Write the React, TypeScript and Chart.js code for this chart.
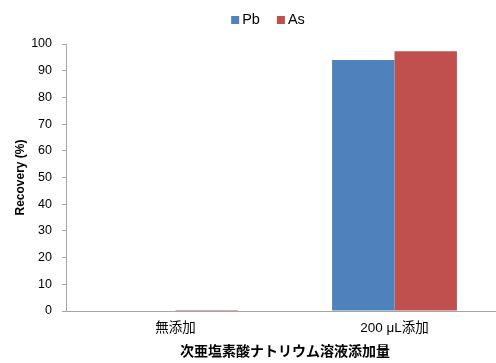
import React, { useEffect, useRef } from "react";
import { Chart, registerables } from "chart.js";

Chart.register(...registerables);

const categories = ["無添加", "200 μL添加"];
const pbValues = [0, 94.0];
const asValues = [0.4, 97.3];
const yTicks = [0, 10, 20, 30, 40, 50, 60, 70, 80, 90, 100];

const seriesNames = ["Pb", "As"];
const seriesColors = ["#4F81BD", "#C0504D"];

const FONT = "'Liberation Sans', 'Noto Sans CJK JP', sans-serif";

// Compact legend row above the plot: small square, tight gap, then the name.
const topLegend = {
  id: "topLegend",
  afterDraw(chart: any) {
    const ctx = chart.ctx as CanvasRenderingContext2D;
    const box = 8;
    const gap = 3;
    const spacing = 17;
    ctx.save();
    ctx.font = `14.5px ${FONT}`;
    ctx.textBaseline = "middle";
    ctx.textAlign = "left";
    const widths = seriesNames.map((n) => ctx.measureText(n).width);
    const total =
      widths.reduce((a, w) => a + box + gap + w, 0) + spacing * (seriesNames.length - 1);
    const area = chart.chartArea;
    const center = (area.left + area.right) / 2 - 17;
    let x = center - total / 2;
    const y = 20;
    seriesNames.forEach((name, i) => {
      ctx.fillStyle = seriesColors[i];
      ctx.fillRect(x, y - box / 2, box, box);
      x += box + gap;
      ctx.fillStyle = "#000";
      ctx.fillText(name, x, y);
      x += widths[i] + spacing;
    });
    ctx.restore();
  },
};

export default function App() {
  const canvasRef = useRef<HTMLCanvasElement | null>(null);

  useEffect(() => {
    const canvas = canvasRef.current;
    if (!canvas) return;
    const chart = new Chart(canvas, {
      type: "bar",
      data: {
        labels: categories,
        datasets: [
          { label: seriesNames[0], data: pbValues, backgroundColor: seriesColors[0], borderWidth: 0 },
          { label: seriesNames[1], data: asValues, backgroundColor: seriesColors[1], borderWidth: 0 },
        ],
      },
      options: {
        responsive: false,
        animation: false,
        layout: { padding: { top: 44, right: 26, bottom: 2, left: 13 } },
        datasets: {
          bar: { categoryPercentage: 0.57, barPercentage: 1.0 },
        },
        plugins: {
          legend: { display: false },
          tooltip: { enabled: false },
        },
        scales: {
          x: {
            grid: { display: false },
            border: { display: true, color: "#A6A6A6" },
            ticks: { color: "#000", font: { family: FONT, size: 13.5 }, padding: 1 },
            afterFit: (scale: any) => {
              scale.height = 50;
            },
            title: {
              display: true,
              text: "次亜塩素酸ナトリウム溶液添加量",
              color: "#000",
              font: { family: FONT, size: 14, weight: "bold" },
              padding: { top: 2, bottom: 0 },
            },
          },
          y: {
            min: 0,
            max: 100,
            afterBuildTicks: (scale: any) => {
              scale.ticks = yTicks.map((v) => ({ value: v }));
            },
            afterFit: (scale: any) => {
              scale.width = 53;
            },
            grid: {
              display: true,
              drawOnChartArea: false,
              drawTicks: true,
              tickLength: 4,
              color: "#A6A6A6",
            },
            border: { display: true, color: "#A6A6A6" },
            ticks: { color: "#000", font: { family: FONT, size: 12.5 }, padding: 10 },
            title: {
              display: true,
              text: "Recovery (%)",
              color: "#000",
              font: { family: FONT, size: 12, weight: "bold" },
              padding: { top: 0, bottom: 2 },
            },
          },
        },
      },
      plugins: [topLegend],
    });
    return () => chart.destroy();
  }, []);

  return (
    <div
      style={{
        position: "fixed",
        left: 0,
        top: 0,
        width: 496,
        height: 363,
        overflow: "hidden",
        background: "#fff",
      }}
    >
      <canvas ref={canvasRef} width={530} height={363} />
    </div>
  );
}
